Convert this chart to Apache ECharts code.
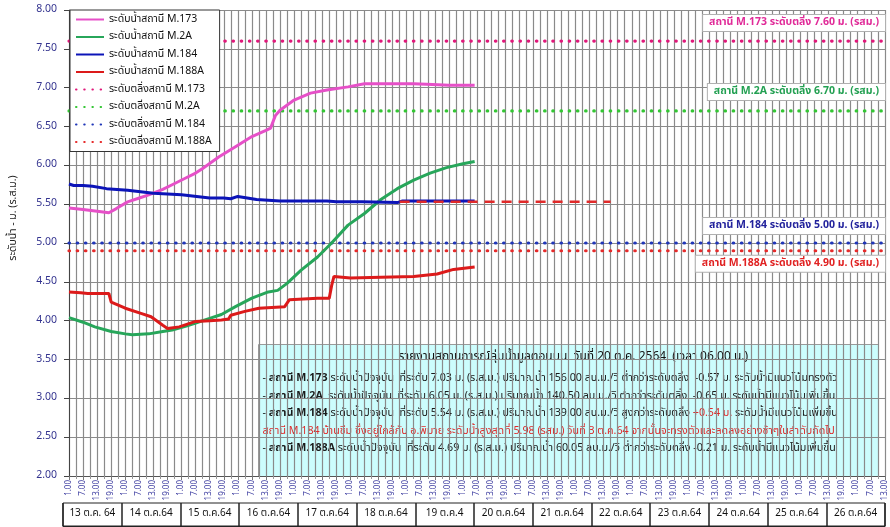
<!DOCTYPE html>
<html>
<head>
<meta charset="utf-8">
<script src="https://cdn.jsdelivr.net/npm/echarts@6/dist/echarts.min.js"></script>
<style>
  html, body { margin: 0; padding: 0; background: #fff; }
  #chart { width: 890px; height: 527px; }
</style>
</head>
<body>
<div id="chart"></div>
<script>
// hours counted from 13 ต.ค. 64 01.00 น.
const xMin = 0;
const xMax = 348;
const hourLabels = ['1.00', '7.00', '13.00', '19.00'];
const dayLabels = ['13 ต.ค. 64', '14 ต.ค.64', '15 ต.ค.64', '16 ต.ค.64', '17 ต.ค.64', '18 ต.ค.64', '19 ต.ค.4',
  '20 ต.ค.64', '21 ต.ค.64', '22 ต.ค.64', '23 ต.ค.64', '24 ต.ค.64', '25 ต.ค.64', '26 ต.ค.64'];

const stations = ['M.173', 'M.2A', 'M.184', 'M.188A'];
const bankLevels = [7.60, 6.70, 5.00, 4.90];

const hoursM173 = [0, 6, 12, 17, 20, 25, 30, 34, 40, 44, 50, 54, 57, 64, 71, 78, 84, 86, 88, 90, 96, 103, 110, 119, 126, 135, 147, 155, 162, 168, 173];
const levelM173 = [5.45, 5.43, 5.41, 5.39, 5.44, 5.53, 5.58, 5.62, 5.69, 5.75, 5.84, 5.90, 5.96, 6.11, 6.24, 6.37, 6.45, 6.48, 6.64, 6.71, 6.84, 6.93, 6.97, 7.01, 7.05, 7.05, 7.05, 7.04, 7.03, 7.03, 7.03];

const hoursM2A = [0, 6, 11, 18, 24, 27, 34, 40, 44, 50, 54, 60, 65, 71, 78, 85, 89, 93, 99, 106, 112, 119, 126, 133, 140, 147, 154, 161, 168, 173];
const levelM2A = [4.04, 3.98, 3.92, 3.86, 3.83, 3.82, 3.83, 3.86, 3.88, 3.93, 3.97, 4.03, 4.08, 4.18, 4.29, 4.37, 4.39, 4.48, 4.65, 4.82, 5.00, 5.23, 5.38, 5.56, 5.70, 5.81, 5.90, 5.97, 6.02, 6.05];

const hoursM184 = [0, 2, 6, 10, 16, 25, 36, 48, 60, 66, 69, 72, 76, 80, 85, 90, 100, 110, 114, 125, 140, 142, 173];
const levelM184 = [5.76, 5.74, 5.74, 5.73, 5.70, 5.68, 5.64, 5.62, 5.58, 5.58, 5.57, 5.60, 5.58, 5.56, 5.55, 5.54, 5.54, 5.54, 5.53, 5.53, 5.52, 5.54, 5.54];

const hoursM188A = [0, 5, 8, 17, 18, 24, 31, 35, 40, 42, 47, 54, 60, 65, 68, 69, 75, 81, 92, 94, 106, 111, 112, 113, 120, 133, 147, 157, 164, 173];
const levelM188A = [4.37, 4.36, 4.35, 4.35, 4.24, 4.16, 4.09, 4.05, 3.94, 3.90, 3.92, 3.99, 4.00, 4.01, 4.02, 4.07, 4.12, 4.16, 4.18, 4.27, 4.29, 4.29, 4.45, 4.57, 4.55, 4.56, 4.57, 4.60, 4.66, 4.69];

// trend line for M.184
const hoursTrend = [141, 231];
const levelTrend = [5.53, 5.53];

const lineColors = ['#e650c8', '#27a65a', '#0c14b8', '#dc1a1a'];
const bankColors = ['#e0187a', '#33c633', '#2036b8', '#e62a2a'];
const labelColors = ['#e02a98', '#23a052', '#22229c', '#e02222'];
const labelOffsets = [[0, -18], [0, -19], [0, -17], [0, 13]];

const FONT = "Tahoma, 'Noto Sans Thai', 'Noto Sans', sans-serif";
const GRID = '#8a8a8a';

const pairs = (xs, ys) => xs.map((x, i) => [x, ys[i]]);

const levelSeries = [
  [hoursM173, levelM173],
  [hoursM2A, levelM2A],
  [hoursM184, levelM184],
  [hoursM188A, levelM188A],
].map(([xs, ys], i) => ({
  name: 'ระดับน้ำสถานี ' + stations[i],
  type: 'line',
  data: pairs(xs, ys),
  symbol: 'none',
  z: 5,
  lineStyle: { color: lineColors[i], width: 3 },
  itemStyle: { color: lineColors[i] },
}));

const bankSeries = bankLevels.map((v, i) => ({
  name: 'ระดับตลิ่งสถานี ' + stations[i],
  type: 'line',
  data: [[xMin, v], [xMax, v]],
  symbol: 'none',
  z: 3,
  lineStyle: { color: bankColors[i], width: 3.2, type: [0.5, 7.7], cap: 'round' },
  itemStyle: { color: bankColors[i] },
  markPoint: {
    symbol: 'circle',
    symbolSize: 0,
    data: [{ coord: [xMax, v] }],
    label: {
      show: true,
      position: 'left',
      distance: 0,
      offset: labelOffsets[i],
      formatter: 'สถานี ' + stations[i] + ' ระดับตลิ่ง ' + v.toFixed(2) + ' ม. (รสม.)',
      color: labelColors[i],
      fontFamily: FONT,
      fontSize: 10.5,
      fontWeight: 'bold',
      backgroundColor: '#fff',
      borderColor: '#b0b0b0',
      borderWidth: 1,
      padding: [3, 6, 2, 6],
    },
  },
}));

const trendSeries = {
  name: 'trend',
  type: 'line',
  data: pairs(hoursTrend, levelTrend),
  symbol: 'none',
  z: 6,
  lineStyle: { color: '#e02a2a', width: 2.5, type: [10, 7] },
};

const infoLines = [
  '- {u|สถานี M.173} ระดับน้ำปัจจุบัน  ที่ระดับ 7.03 ม. (ร.ส.ม.) ปริมาณน้ำ 156.00 ลบ.ม./วิ ต่ำกว่าระดับตลิ่ง  -0.57 ม. ระดับน้ำมีแนวโน้มทรงตัว',
  '- {u|สถานี M.2A}  ระดับน้ำปัจจุบัน  ที่ระดับ 6.05 ม. (ร.ส.ม.) ปริมาณน้ำ 140.50 ลบ.ม./วิ ต่ำกว่าระดับตลิ่ง  -0.65 ม. ระดับน้ำมีแนวโน้มเพิ่มขึ้น',
  '- {u|สถานี M.184} ระดับน้ำปัจจุบัน  ที่ระดับ 5.54 ม. (ร.ส.ม.) ปริมาณน้ำ 139.00 ลบ.ม./วิ สูงกว่าระดับตลิ่ง {r|+0.54 ม.} ระดับน้ำมีแนวโน้มเพิ่มขึ้น',
  '{r|สถานี M.184 บ้านชีม ซึ่งอยู่ใกล้กับ อ.พิมาย ระดับน้ำสูงสุดที่ 5.98 (รสม.) วันที่ 3 ต.ค.64 จากนั้นจะทรงตัวและลดลงอย่างช้าๆในลำดับถัดไป}',
  '- {u|สถานี M.188A} ระดับน้ำปัจจุบัน  ที่ระดับ 4.69 ม. (ร.ส.ม.) ปริมาณน้ำ 60.05 ลบ.ม./วิ ต่ำกว่าระดับตลิ่ง -0.21 ม. ระดับน้ำมีแนวโน้มเพิ่มขึ้น',
];
const infoTitle = 'รายงานสถานการณ์ลุ่มน้ำมูลตอนบน  วันที่ 20 ต.ค. 2564  (เวลา 06.00 น.)';

const option = {
  animation: false,
  textStyle: { fontFamily: FONT },
  legend: {
    data: levelSeries.concat(bankSeries).map(s => s.name),
    orient: 'vertical',
    left: 70,
    top: 10,
    backgroundColor: '#fff',
    borderColor: '#333',
    borderWidth: 1,
    padding: [4, 8, 4, 5],
    itemWidth: 28,
    itemHeight: 10,
    itemGap: 6.5,
    itemStyle: { opacity: 0 },
    textStyle: { fontSize: 10.5, color: '#111', fontFamily: FONT },
  },
  grid: [
    { left: 67, right: 5, top: 10, bottom: 51 },
    { left: 63, right: 5, top: 503, height: 23, show: true, borderColor: '#222', borderWidth: 1 },
  ],
  xAxis: [
    {
      type: 'value',
      min: xMin,
      max: xMax,
      interval: 6,
      axisLine: { show: true, onZero: false, lineStyle: { color: '#555' } },
      axisTick: { show: true, length: 4, lineStyle: { color: '#777' } },
      minorTick: { show: true, splitNumber: 2, length: 3, lineStyle: { color: '#999' } },
      splitLine: { show: true, lineStyle: { color: GRID, width: 1.2 } },
      minorSplitLine: { show: true, lineStyle: { color: GRID, width: 1.2 } },
      axisLabel: {
        rotate: 90,
        fontSize: 8,
        margin: 4,
        color: '#3c3ca0',
        formatter: v => hourLabels[(v / 6) % 4],
      },
    },
    {
      type: 'category',
      gridIndex: 1,
      data: dayLabels,
      boundaryGap: true,
      axisLine: { show: true, lineStyle: { color: '#222' } },
      axisTick: { show: false },
      splitLine: { show: true, interval: 0, lineStyle: { color: '#222', width: 1.5 } },
      axisLabel: { interval: 0, margin: -17, fontSize: 10, color: '#111' },
    },
  ],
  yAxis: [
    {
      type: 'value',
      min: 2,
      max: 8,
      interval: 0.5,
      name: 'ระดับน้ำ - ม. (ร.ส.ม.)',
      nameLocation: 'middle',
      nameRotate: 90,
      nameGap: 50,
      nameTextStyle: { fontSize: 10.5, color: '#222', padding: [0, 0, 0, 50] },
      axisLine: { show: true, lineStyle: { color: '#444' } },
      axisTick: { show: true, length: 5, lineStyle: { color: '#444' } },
      splitLine: { show: true, lineStyle: { color: GRID, width: 1.2 } },
      axisLabel: {
        fontSize: 10.5,
        margin: 12,
        color: '#33338f',
        formatter: v => v.toFixed(2),
      },
    },
    { type: 'value', gridIndex: 1, show: false, splitLine: { show: false } },
  ],
  graphic: [
    {
      type: 'group',
      left: 258,
      top: 344,
      z: 100,
      children: [
        {
          type: 'rect',
          shape: { x: 0, y: 0, width: 620, height: 132 },
          style: { fill: '#ccfdfd', stroke: '#9a9a9a', lineWidth: 1 },
        },
        {
          type: 'text',
          x: 140,
          y: 7,
          style: { text: infoTitle, font: '12px ' + FONT, fill: '#111' },
        },
      ].concat(infoLines.map((t, i) => ({
        type: 'text',
        x: 4,
        y: 29 + i * 17.5,
        style: {
          text: t,
          font: '10.7px ' + FONT,
          fill: '#1a1a1a',
          rich: {
            u: { fill: '#1a1a1a', fontWeight: 'bold', fontSize: 10.7, fontFamily: FONT },
            r: { fill: '#e02a2a', fontSize: 10.7, fontFamily: FONT },
          },
        },
      }))),
    },
  ],
  series: levelSeries.concat(bankSeries, [trendSeries]),
};

const chart = echarts.init(document.getElementById('chart'));
chart.setOption(option);
</script>
</body>
</html>
